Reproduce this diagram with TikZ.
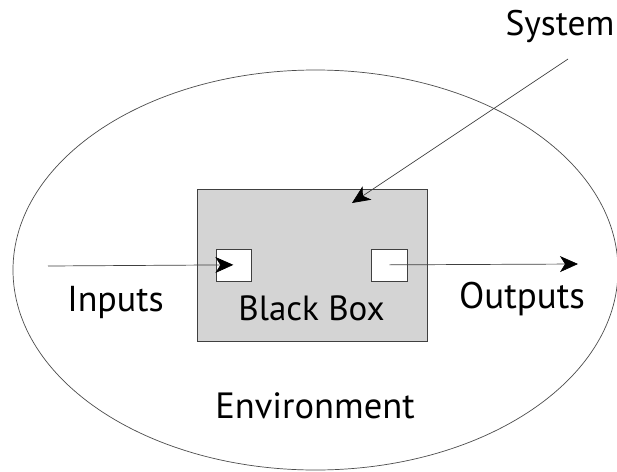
\documentclass[tikz,border=0pt]{standalone}
\usepackage{fontspec}
\setmainfont{PT Sans}
\usetikzlibrary{arrows.meta}
\begin{document}
\begin{tikzpicture}[x=1pt,y=-1pt,
  line/.style={draw=black!75,line width=0.7pt},
  arr/.style={line,-{Stealth[length=18pt,width=16pt,inset=5pt,black]}},
  lbl/.style={anchor=base,inner sep=0pt}]
\useasboundingbox (0,0) rectangle (617,471);
\fill[white] (0,0) rectangle (617,471);
\draw[line,draw=black!70] (315.5,270) ellipse [x radius=302.5, y radius=200];
\node[line,fill=black!17,minimum width=230pt,minimum height=152pt,inner sep=0pt,anchor=north west] (bb) at (196.5,188.5) {};
\node[line,fill=white,minimum width=35pt,minimum height=32pt,inner sep=0pt,anchor=north west] (in) at (215.5,248.5) {};
\node[line,fill=white,minimum width=36pt,minimum height=32pt,inner sep=0pt,anchor=north west] (out) at (371,248.5) {};
\coordinate (ins) at (48,266);
\coordinate (outend) at (578,264);
\coordinate (sys) at (568,59);
\coordinate (systip) at (352,203);
\draw[arr] (ins) -- (in.center);
\draw[arr] (out.center) -- (outend);
\draw[arr] (sys) -- (systip);
\node[lbl,font=\fontsize{35.5}{36}\selectfont] (tsys) at (560,35) {System};
\node[lbl,font=\fontsize{36}{36}\selectfont] (tin) at (115.5,311) {Inputs};
\node[lbl,font=\fontsize{35}{36}\selectfont] (tbb) at (311.5,320) {Black Box};
\node[lbl,font=\fontsize{37}{36}\selectfont] (tout) at (522,308) {Outputs};
\node[lbl,font=\fontsize{36.5}{36}\selectfont] (tenv) at (315,418) {Environment};
\end{tikzpicture}
\end{document}
